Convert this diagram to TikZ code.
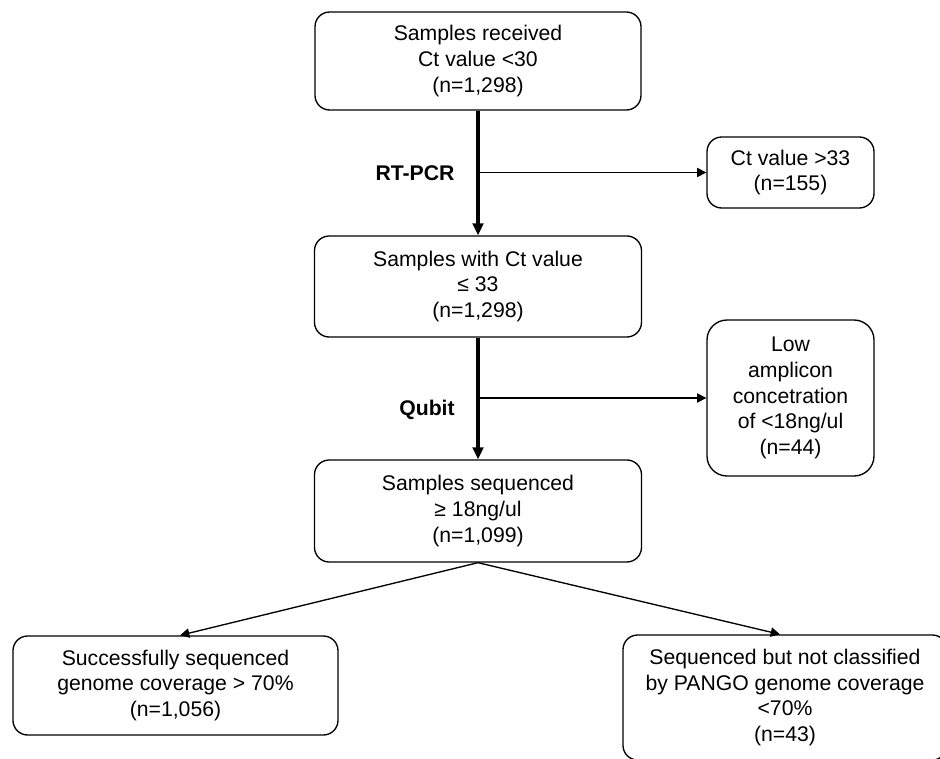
\documentclass[tikz,border=0pt]{standalone}
\usepackage{fontspec}
\setmainfont{Liberation Sans}
\usetikzlibrary{arrows.meta}

\begin{document}
\begin{tikzpicture}[x=0.75pt,y=-0.75pt,
  box/.style={draw,rounded corners=11pt,line width=1pt,align=center,inner sep=0pt,
    font=\fontsize{15.9}{19.3}\selectfont},
  flow/.style={line width=3pt,-{Triangle[length=9pt,width=8pt]}},
  side/.style={line width=1pt,-{Triangle[length=7pt,width=7pt]}},
  tag/.style={font=\fontsize{15.9}{19.3}\selectfont\bfseries}]
\useasboundingbox (0,0) rectangle (940,758);
\clip (0,0) rectangle (940,758);

% Main column
\node[box,minimum width=244.5pt,minimum height=73.5pt] (received) at (478,61)
  {Samples received\\Ct value <30\\(n=1,298)};
\node[box,minimum width=245.25pt,minimum height=75.75pt] (ctlow) at (478,286.5)
  {Samples with Ct value\\≤ 33\\(n=1,298)};
\node[box,minimum width=245.25pt,minimum height=76.5pt] (sequenced) at (478,511)
  {Samples sequenced\\≥ 18ng/ul\\(n=1,099)};

% Excluded samples
\node[box,minimum width=125.25pt,minimum height=53.25pt] (cthigh) at (790.5,172.5)
  {Ct value >33\\(n=155)};
\node[box,rounded corners=15pt,minimum width=125.25pt,minimum height=117pt] (lowconc) at (790.5,398)
  {Low\\amplicon\\concetration\\of <18ng/ul\\(n=44)};

% Outcome of sequencing
\node[box,minimum width=243.75pt,minimum height=74.25pt] (success) at (175.5,685.5)
  {Successfully sequenced\\genome coverage > 70\%\\(n=1,056)};
\node[box,minimum width=243pt,minimum height=93.75pt] (unclass) at (785,697.5)
  {Sequenced but not classified\\by PANGO genome coverage\\<70\%\\(n=43)};

% Steps
\draw[flow] (received.south) -- (ctlow.north);
\draw[side] (received.south |- cthigh.west) -- (cthigh.west);
\node[tag] (rtpcr) at (415,173) {RT-PCR};

\draw[flow] (ctlow.south) -- (sequenced.north);
\draw[side] (ctlow.south |- lowconc.west) -- (lowconc.west);
\node[tag] (qubit) at (427,410) {Qubit};

\draw[side] (sequenced.south) -- ([xshift=3.4pt]success.north);
\draw[side] (sequenced.south) -- ([xshift=-3.75pt]unclass.north);

\end{tikzpicture}
\end{document}
